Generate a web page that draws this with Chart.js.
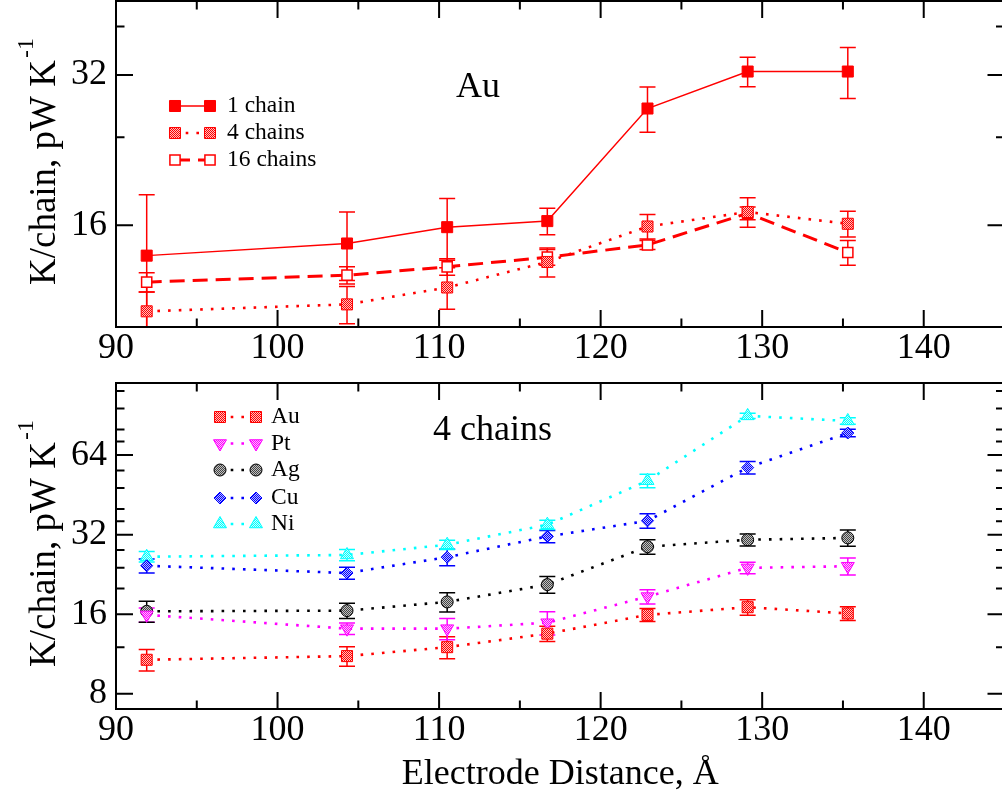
<!DOCTYPE html>
<html>
<head>
<meta charset="utf-8">
<script src="https://cdn.jsdelivr.net/npm/chart.js@4.4.1/dist/chart.umd.min.js"></script>
<style>
html, body { margin: 0; padding: 0; background: #fff; overflow: hidden; }
#wrap { position: relative; width: 1002px; height: 799px; overflow: hidden; }
canvas { position: absolute; left: 0; }
#top { top: 0; }
#bottom { top: 370px; }
</style>
</head>
<body>
<div id="wrap">
<canvas id="top" width="1008" height="370"></canvas>
<canvas id="bottom" width="1008" height="429"></canvas>
</div>
<script>
// electrode distances (Angstrom)
const distance = [91.9, 104.3, 110.5, 116.7, 122.9, 129.1, 135.3];

// top panel: Au, K per chain
const oneChain = [13.9, 14.7, 15.85, 16.3, 27.4, 32.5, 32.5];
const oneChainErr = [4.5, 2.3, 2.25, 1.0, 2.85, 2.2, 3.8];
const fourChains = [10.75, 11.1, 12.0, 13.5, 15.9, 17.0, 16.1];
const fourChainsErr = [1.0, 0.95, 1.15, 0.9, 0.9, 1.15, 0.95];
const sixteenChains = [12.3, 12.7, 13.2, 13.8, 14.6, 16.9, 14.1];
const sixteenChainsErr = [0.55, 0.5, 0.5, 0.5, 0.3, 0.5, 0.8];

// bottom panel: 4 chains, by metal (Au is the 4 chains set above)
const ptValues = [15.9, 14.1, 14.1, 14.85, 18.65, 23.95, 24.3];
const ptErr = [1.0, 0.7, 1.3, 1.5, 1.15, 1.2, 1.8];
const agValues = [16.4, 16.5, 17.8, 20.7, 28.8, 30.6, 31.1];
const agErr = [1.5, 1.1, 1.5, 1.5, 1.8, 1.6, 2.2];
const cuValues = [24.4, 22.9, 26.3, 31.5, 36.1, 57.4, 77.6];
const cuErr = [1.5, 1.2, 1.9, 1.7, 2.3, 3.1, 2.5];
const niValues = [26.4, 26.8, 29.3, 34.9, 51.2, 90.1, 86.2];
const niErr = [1.2, 1.3, 1.2, 1.4, 3.0, 2.0, 2.5];

// ticks
const xMajorTicks = [90, 100, 110, 120, 130, 140];
const xMinorTicks = [95, 105, 115, 125, 135, 145];
const topMajorTicks = [16, 32];
const topMinorTicks = [24, 40];
const bottomMajorTicks = [8, 16, 32, 64];
const bottomMinorTicks = [12, 20, 24, 28, 36, 40, 48, 56, 72, 80, 96, 112];

const serif = "'Liberation Serif', 'Times New Roman', serif";
Chart.defaults.font.family = serif;
Chart.defaults.color = '#000';

function htPattern(color, light)
{
    const c = document.createElement('canvas');
    c.width = 2;
    c.height = 2;
    const g = c.getContext('2d');
    g.fillStyle = light;
    g.fillRect(0, 0, 2, 2);
    g.fillStyle = color;
    g.fillRect(0, 0, 1, 1);
    g.fillRect(1, 1, 1, 1);
    return g.createPattern(c, 'repeat');
}

const dotted = [2.6, 8.1];
const dashed = [15, 8];

function htSet(label, ys, errs, color, extra)
{
    return Object.assign({
        label: label,
        data: distance.map((x, i) => ({ x: x, y: ys[i] })),
        errors: errs,
        showLine: true,
        tension: 0,
        borderColor: color,
        borderWidth: 2.6,
        borderDash: dotted,
        borderCapStyle: 'butt',
        pointBorderColor: color,
        pointBorderWidth: 1,
        pointRadius: 7.8,
        pointHoverRadius: 7.8,
        pointStyle: 'rect',
        pointRotation: 0
    }, extra);
}

// inward ticks on all four sides + frame
const htFrame = {
    id: 'htFrame',
    afterDraw(chart, args, opts) {
        const ctx = chart.ctx;
        const a = chart.chartArea;
        const xs = chart.scales.x;
        const ys = chart.scales.y;
        ctx.save();
        ctx.strokeStyle = '#000';
        ctx.lineWidth = 2;
        ctx.beginPath();
        const xt = (list, len) => list.forEach(v => {
            const p = xs.getPixelForValue(v);
            ctx.moveTo(p, a.bottom); ctx.lineTo(p, a.bottom - len);
            ctx.moveTo(p, a.top); ctx.lineTo(p, a.top + len);
        });
        const yt = (list, len) => list.forEach(v => {
            const p = ys.getPixelForValue(v);
            ctx.moveTo(a.left, p); ctx.lineTo(a.left + len, p);
            ctx.moveTo(a.right, p); ctx.lineTo(a.right - len, p);
        });
        xt(xMajorTicks, 17);
        xt(xMinorTicks, 8.5);
        yt(opts.major, 17);
        yt(opts.minor, 8.5);
        ctx.stroke();
        ctx.strokeRect(a.left, a.top, a.right - a.left, a.bottom - a.top);
        ctx.restore();
    }
};

const htErrorBars = {
    id: 'htErrorBars',
    beforeDatasetsDraw(chart) {
        const ctx = chart.ctx;
        const a = chart.chartArea;
        ctx.save();
        ctx.beginPath();
        ctx.rect(a.left, a.top, a.right - a.left, a.bottom - a.top);
        ctx.clip();
        ctx.lineWidth = 1.5;
        chart.data.datasets.forEach(ds => {
            ctx.strokeStyle = ds.borderColor;
            ds.data.forEach((pt, j) => {
                const e = ds.errors[j];
                const x = chart.scales.x.getPixelForValue(pt.x);
                const yHi = chart.scales.y.getPixelForValue(pt.y + e);
                const yLo = chart.scales.y.getPixelForValue(pt.y - e);
                ctx.beginPath();
                ctx.moveTo(x, yLo); ctx.lineTo(x, yHi);
                ctx.moveTo(x - 8, yLo); ctx.lineTo(x + 8, yLo);
                ctx.moveTo(x - 8, yHi); ctx.lineTo(x + 8, yHi);
                ctx.stroke();
            });
        });
        ctx.restore();
    }
};

// xmgrace style legend, panel label and y title
const htDecor = {
    id: 'htDecor',
    afterDraw(chart, args, opts) {
        const ctx = chart.ctx;
        chart.data.datasets.forEach((ds, i) => {
            const y = opts.rows[i];
            ctx.save();
            ctx.strokeStyle = ds.borderColor;
            ctx.lineWidth = ds.borderWidth;
            ctx.setLineDash(ds.borderDash || []);
            ctx.beginPath();
            ctx.moveTo(opts.x1, y);
            ctx.lineTo(opts.x2, y);
            ctx.stroke();
            ctx.setLineDash([]);
            ctx.fillStyle = ds.pointBackgroundColor;
            ctx.strokeStyle = ds.pointBorderColor;
            ctx.lineWidth = ds.pointBorderWidth;
            const p = { pointStyle: ds.pointStyle, radius: ds.pointRadius, rotation: ds.pointRotation, borderWidth: ds.pointBorderWidth };
            Chart.helpers.drawPoint(ctx, p, opts.x1, y);
            Chart.helpers.drawPoint(ctx, p, opts.x2, y);
            ctx.fillStyle = '#000';
            ctx.font = '23.5px ' + serif;
            ctx.textBaseline = 'middle';
            ctx.textAlign = 'left';
            ctx.fillText(ds.label, opts.textX, y);
            ctx.restore();
        });

        ctx.save();
        ctx.fillStyle = '#000';
        ctx.font = '36px ' + serif;
        ctx.textBaseline = 'alphabetic';
        ctx.textAlign = 'left';
        ctx.fillText(opts.label, opts.labelX, opts.labelY);

        ctx.translate(55, opts.titleY);
        ctx.rotate(-Math.PI / 2);
        ctx.font = '37px ' + serif;
        const main = 'K/chain, pW K';
        ctx.fillText(main, 0, 0);
        const w = ctx.measureText(main).width;
        ctx.font = '24px ' + serif;
        ctx.fillText('-1', w + 2, -22);
        ctx.restore();
    }
};

function htOptions(yMin, yMax, yMajor, yMinor, padTop, xHeight, xTitle, decor)
{
    return {
        responsive: false,
        animation: false,
        devicePixelRatio: 1,
        layout: { autoPadding: false, padding: { top: padTop, right: 3.5, left: 0, bottom: 0 } },
        plugins: {
            legend: { display: false },
            tooltip: { enabled: false },
            htFrame: { major: yMajor, minor: yMinor },
            htDecor: decor
        },
        scales: {
            x: {
                type: 'linear',
                min: 90,
                max: 145,
                afterBuildTicks: s => { s.ticks = xMajorTicks.map(v => ({ value: v })); },
                afterFit: s => {
                    s.height = xHeight;
                    s.paddingLeft = 0; s.paddingRight = 0;
                },
                grid: { display: false, drawTicks: false },
                border: { display: false },
                ticks: { color: '#000', font: { family: serif, size: 36 }, padding: 0, autoSkip: false, maxRotation: 0 },
                title: {
                    display: xTitle != null,
                    text: xTitle || '',
                    color: '#000',
                    font: { family: serif, size: 36 },
                    padding: { top: 0, bottom: 3 }
                }
            },
            y: {
                type: 'logarithmic',
                min: yMin,
                max: yMax,
                afterBuildTicks: s => { s.ticks = yMajor.map(v => ({ value: v })); },
                afterFit: s => {
                    s.width = 116;
                    s.paddingTop = 0; s.paddingBottom = 0;
                },
                grid: { display: false, drawTicks: false },
                border: { display: false },
                ticks: { color: '#000', font: { family: serif, size: 36 }, padding: 9, autoSkip: false, callback: v => String(v) }
            }
        }
    };
}

const redFill = htPattern('#ff0000', '#ffc0c0');

new Chart(document.getElementById('top').getContext('2d'), {
    type: 'scatter',
    data: {
        datasets: [
            htSet('1 chain', oneChain, oneChainErr, '#ff0000', {
                borderWidth: 1.5, borderDash: [], pointBackgroundColor: '#ff0000'
            }),
            htSet('4 chains', fourChains, fourChainsErr, '#ff0000', {
                pointBackgroundColor: redFill
            }),
            htSet('16 chains', sixteenChains, sixteenChainsErr, '#ff0000', {
                borderWidth: 3, borderDash: dashed, pointBackgroundColor: '#ffffff', pointBorderWidth: 1.5, pointRadius: 7.2
            })
        ]
    },
    options: htOptions(10, 45, topMajorTicks, topMinorTicks, 1, 43, null, {
        rows: [106, 133, 160], x1: 175, x2: 210, textX: 227,
        label: 'Au', labelX: 456, labelY: 97, titleY: 285
    }),
    plugins: [htErrorBars, htFrame, htDecor]
});

new Chart(document.getElementById('bottom').getContext('2d'), {
    type: 'scatter',
    data: {
        datasets: [
            htSet('Au', fourChains, fourChainsErr, '#ff0000', {
                pointBackgroundColor: redFill
            }),
            htSet('Pt', ptValues, ptErr, '#ff00ff', {
                pointStyle: 'triangle', pointRotation: 180, pointRadius: 7.5,
                pointBackgroundColor: htPattern('#ff00ff', '#ffc0ff')
            }),
            htSet('Ag', agValues, agErr, '#000000', {
                pointStyle: 'circle', pointRadius: 6,
                pointBackgroundColor: htPattern('#444444', '#c0c0c0')
            }),
            htSet('Cu', cuValues, cuErr, '#0000ff', {
                pointStyle: 'rectRot', pointRadius: 6,
                pointBackgroundColor: htPattern('#0000ff', '#b8b8ff')
            }),
            htSet('Ni', niValues, niErr, '#00ffff', {
                pointStyle: 'triangle', pointRadius: 7.5,
                pointBackgroundColor: htPattern('#00ffff', '#c8ffff')
            })
        ]
    },
    options: htOptions(7, 120, bottomMajorTicks, bottomMinorTicks, 13, 90, 'Electrode Distance, \u00c5', {
        rows: [47, 73.5, 100, 128, 154], x1: 220, x2: 256, textX: 271,
        label: '4 chains', labelX: 433, labelY: 70, titleY: 297
    }),
    plugins: [htErrorBars, htFrame, htDecor]
});
</script>
</body>
</html>
